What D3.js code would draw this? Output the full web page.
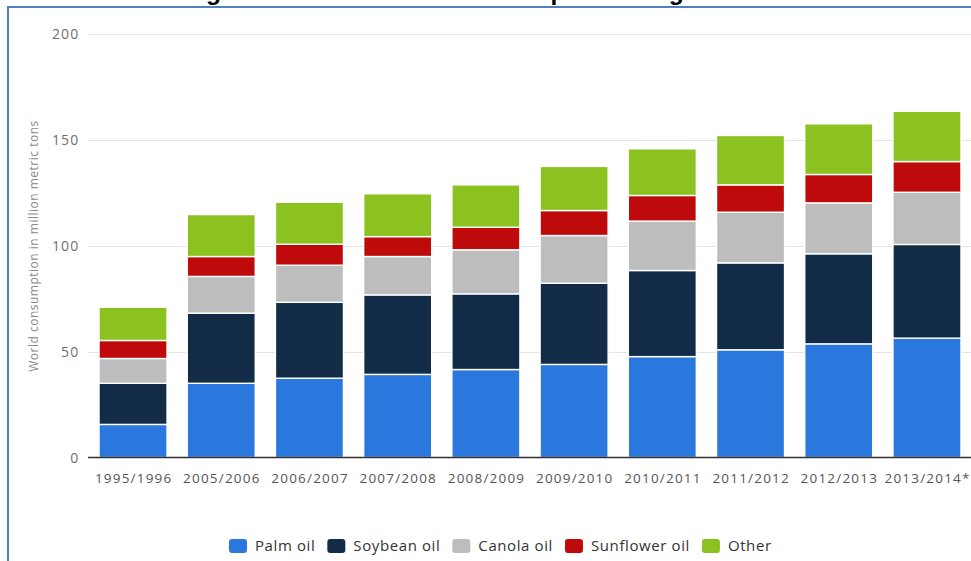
<!DOCTYPE html>
<html>
<head>
<meta charset="utf-8">
<script src="https://cdn.jsdelivr.net/npm/d3@7/dist/d3.min.js"></script>
<style>
  html, body { margin: 0; padding: 0; background: #fff; }
  svg { display: block; }
</style>
</head>
<body>
<svg id="chart" width="971" height="561"></svg>
<script>
// Marketing years
const categories = ["1995/1996", "2005/2006", "2006/2007", "2007/2008", "2008/2009",
                    "2009/2010", "2010/2011", "2011/2012", "2012/2013", "2013/2014*"];

// World consumption by oil type, million metric tons
const palmOil      = [15.6, 35.0, 37.4, 39.2, 41.5, 43.9, 47.6, 50.8, 53.6, 56.3];
const soybeanOil   = [19.4, 33.1, 35.8, 37.5, 35.7, 38.3, 40.6, 41.0, 42.5, 44.2];
const canolaOil    = [11.7, 17.3, 17.5, 18.1, 20.8, 22.5, 23.3, 23.9, 24.0, 24.6];
const sunflowerOil = [ 8.5,  9.4,  9.9,  9.4, 10.6, 11.8, 12.1, 12.9, 13.4, 14.5];
const otherOils    = [15.7, 19.8, 19.8, 20.2, 20.0, 20.8, 22.0, 23.3, 23.9, 23.7];

const seriesNames  = ["Palm oil", "Soybean oil", "Canola oil", "Sunflower oil", "Other"];
const seriesColors = ["#2a77dd", "#122b46", "#bdbdbd", "#be0a0a", "#8bc21f"];
const yTicks = [0, 50, 100, 150, 200];

const titleText = "Global vegetable oils and fats: consumption rising";
const yAxisTitle = "World consumption in million metric tons";

const seriesValues = [palmOil, soybeanOil, canolaOil, sunflowerOil, otherOils];
const rows = categories.map((c, i) => {
  const r = { category: c };
  seriesNames.forEach((s, k) => { r[s] = seriesValues[k][i]; });
  return r;
});

const svg = d3.select("#chart");
const font = "'Open Sans', 'DejaVu Sans', sans-serif";

const x = d3.scaleBand().domain(categories).range([88, 972])
  .paddingInner(0.229).paddingOuter(0.125);
const y = d3.scaleLinear().domain([0, 200]).range([457.5, 33.5]);
const color = d3.scaleOrdinal().domain(seriesNames).range(seriesColors);

// Page title (sits above the frame, mostly out of view)
const title = svg.append("text")
  .attr("x", 0).attr("y", 0)
  .attr("font-family", "'Liberation Sans', Arial, sans-serif")
  .attr("font-weight", "bold")
  .attr("font-size", 24)
  .attr("fill", "#000")
  .text(titleText);
{
  const node = title.node();
  const gFirst = titleText.indexOf("g");
  const gLast = titleText.lastIndexOf("g");
  const span = node.getStartPositionOfChar(gLast).x - node.getStartPositionOfChar(gFirst).x;
  const size = 24 * 463 / span;
  title.attr("font-size", size);
  const start = node.getStartPositionOfChar(gFirst).x;
  title.attr("x", 206 - start).attr("y", -0.5);
}

// Frame
svg.append("path")
  .attr("d", "M8,561 V7 H971")
  .attr("fill", "none")
  .attr("stroke", "#4f81bd")
  .attr("stroke-width", 2);

// Horizontal gridlines
svg.append("g")
  .selectAll("line")
  .data(yTicks.filter(d => d > 0))
  .join("line")
  .attr("x1", 88).attr("x2", 971)
  .attr("y1", d => Math.round(y(d)) + 0.5)
  .attr("y2", d => Math.round(y(d)) + 0.5)
  .attr("stroke", "#e4e4e4")
  .attr("stroke-width", 1);

// Y axis labels
const yAxis = d3.axisLeft(y).tickValues(yTicks).tickSize(0).tickPadding(0);
const yAxisG = svg.append("g").attr("transform", "translate(79.5,0)").call(yAxis);
yAxisG.select(".domain").remove();
yAxisG.selectAll("text")
  .attr("font-family", font)
  .attr("font-size", 14)
  .attr("letter-spacing", "1.2px")
  .attr("fill", "#6f6f6f")
  .attr("dy", "0.35em");

// Y axis title
svg.append("text")
  .attr("transform", "translate(38,246) rotate(-90)")
  .attr("text-anchor", "middle")
  .attr("font-family", font)
  .attr("font-size", 12)
  .attr("letter-spacing", "0.5px")
  .attr("fill", "#8a8a8a")
  .text(yAxisTitle);

// Stacked bars
const stacked = d3.stack().keys(seriesNames)(rows);
svg.append("g")
  .selectAll("g")
  .data(stacked)
  .join("g")
  .attr("fill", d => color(d.key))
  .selectAll("rect")
  .data(d => d)
  .join("rect")
  .attr("x", d => x(d.data.category))
  .attr("width", x.bandwidth())
  .attr("y", d => y(d[1]))
  .attr("height", d => y(d[0]) - y(d[1]))
  .attr("stroke", "#fff")
  .attr("stroke-width", 1.4);

// Baseline
svg.append("line")
  .attr("x1", 88).attr("x2", 971)
  .attr("y1", y(0)).attr("y2", y(0))
  .attr("stroke", "#333")
  .attr("stroke-width", 1.5);

// X axis labels
const xAxis = d3.axisBottom(x).tickSize(0).tickPadding(0);
const xAxisG = svg.append("g").attr("transform", "translate(0.6,478)").call(xAxis);
xAxisG.select(".domain").remove();
xAxisG.selectAll("text")
  .attr("font-family", font)
  .attr("font-size", 13.5)
  .attr("letter-spacing", "1.2px")
  .attr("fill", "#555")
  .attr("dy", "0.35em");

// Legend
const legend = svg.append("g").attr("transform", "translate(0,546)");
let lx = 229;
seriesNames.forEach(name => {
  const item = legend.append("g").attr("transform", `translate(${lx},0)`);
  item.append("rect")
    .attr("x", 0).attr("y", -7)
    .attr("width", 18).attr("height", 14)
    .attr("rx", 3)
    .attr("fill", color(name));
  const t = item.append("text")
    .attr("x", 26).attr("y", 0).attr("dy", "0.35em")
    .attr("font-family", font)
    .attr("font-size", 15)
    .attr("letter-spacing", "0.6px")
    .attr("fill", "#333")
    .text(name);
  lx += 26 + t.node().getComputedTextLength() + 12;
});
</script>
</body>
</html>
